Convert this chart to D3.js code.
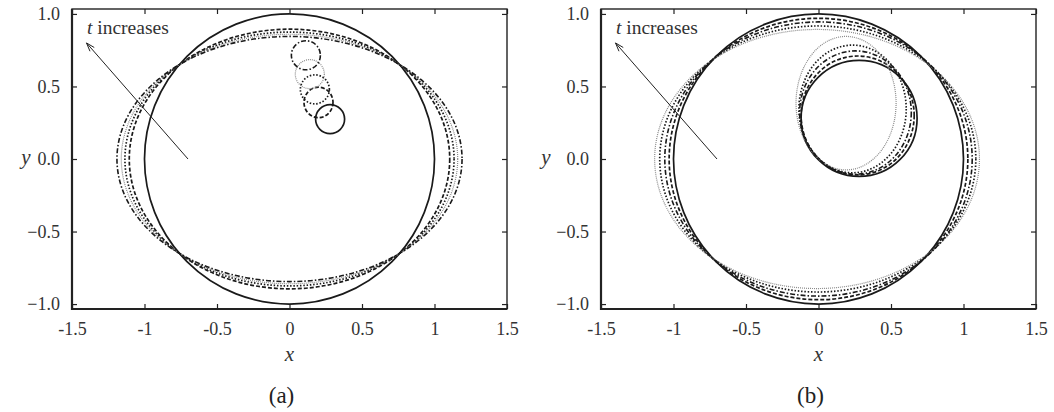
<!DOCTYPE html>
<html>
<head>
<meta charset="utf-8">
<script src="https://cdn.jsdelivr.net/npm/d3@7"></script>
<style>
  html, body { margin: 0; padding: 0; background: #fff; }
  svg { display: block; }
</style>
</head>
<body>
<svg id="chart" width="1054" height="412"></svg>
<script>
// Axis ticks shared by both panels
const xTicks = [-1.5, -1, -0.5, 0, 0.5, 1, 1.5];
const xTickLabels = ["-1.5", "-1", "-0.5", "0", "0.5", "1", "1.5"];
const yTicks = [-1, -0.5, 0, 0.5, 1];
const yTickLabels = ["\u22121.0", "\u22120.5", "0.0", "0.5", "1.0"];

// Line style for each time level (earliest first)
const levels = ["solid", "dashed", "dotted", "grayDotted", "dashDot"];

// Panel (a): outer boundary per time level (centre x, centre y, semi-axis x, semi-axis y)
const aOuterCx = [0, 0, 0, 0, 0];
const aOuterCy = [0, 0, 0, 0, 0];
const aOuterRx = [1.0, 1.105, 1.135, 1.16, 1.19];
const aOuterRy = [1.0, 0.895, 0.875, 0.86, 0.845];
// Panel (a): small inclusion per time level
const aInnerCx = [0.28, 0.20, 0.175, 0.14, 0.113];
const aInnerCy = [0.275, 0.39, 0.48, 0.585, 0.715];
const aInnerRx = [0.1, 0.1, 0.1, 0.1, 0.1];
const aInnerRy = [0.1, 0.105, 0.1, 0.1, 0.1];

// Panel (b): outer boundary per time level
const bOuterCx = [0, 0, -0.005, -0.01, 0];
const bOuterCy = [0, 0, 0, 0, 0];
const bOuterRx = [1.0, 1.03, 1.09, 1.12, 1.06];
const bOuterRy = [1.0, 0.97, 0.917, 0.893, 0.945];
// Panel (b): large inclusion per time level
const bInnerCx = [0.28, 0.27, 0.235, 0.19, 0.255];
const bInnerCy = [0.28, 0.30, 0.345, 0.385, 0.32];
const bInnerRx = [0.40, 0.39, 0.37, 0.345, 0.385];
const bInnerRy = [0.40, 0.41, 0.44, 0.46, 0.425];

// Arrow marking the direction of increasing time (tail, head)
const arrowFrom = [-0.7, 0.0];
const arrowTo = [-1.4, 0.8];

const panelLabels = ["(a)", "(b)"];

const SERIF = "Liberation Serif";

const styleOf = {
  solid:      { stroke: "#1a1a1a", width: 1.7, dash: null },
  dashed:     { stroke: "#1a1a1a", width: 1.7, dash: "4,2" },
  dotted:     { stroke: "#1a1a1a", width: 1.7, dash: "1.5,1.8" },
  grayDotted: { stroke: "#8a8a8a", width: 1.2, dash: "1,1" },
  dashDot:    { stroke: "#1a1a1a", width: 1.6, dash: "5,2,1.5,2" }
};

const svg = d3.select("#chart");

const panels = [
  { offset: 0, yLabelX: 26,
    shapes: [
      { cx: aOuterCx, cy: aOuterCy, rx: aOuterRx, ry: aOuterRy },
      { cx: aInnerCx, cy: aInnerCy, rx: aInnerRx, ry: aInnerRy }
    ] },
  { offset: 529, yLabelX: 17,
    shapes: [
      { cx: bOuterCx, cy: bOuterCy, rx: bOuterRx, ry: bOuterRy },
      { cx: bInnerCx, cy: bInnerCy, rx: bInnerRx, ry: bInnerRy }
    ] }
];

const L = 72, R = 507, T = 9, B = 309;

panels.forEach((p, pi) => {
  const g = svg.append("g").attr("transform", `translate(${p.offset},0)`);
  const x = d3.scaleLinear().domain([-1.5, 1.5]).range([L, R]);
  const y = d3.scaleLinear().domain([-1.034, 1.034]).range([B, T]);

  // curves
  p.shapes.forEach(s => {
    levels.forEach((lv, i) => {
      const st = styleOf[lv];
      g.append("ellipse")
        .attr("cx", x(s.cx[i]))
        .attr("cy", y(s.cy[i]))
        .attr("rx", x(s.rx[i]) - x(0))
        .attr("ry", y(0) - y(s.ry[i]))
        .attr("fill", "none")
        .attr("stroke", st.stroke)
        .attr("stroke-width", st.width)
        .attr("stroke-dasharray", st.dash);
    });
  });

  // axes with inward ticks on all four sides
  const tickLen = 5;
  g.append("g").attr("transform", `translate(0,${B})`)
    .call(d3.axisBottom(x).tickValues(xTicks).tickSizeInner(-tickLen).tickSizeOuter(0)
      .tickFormat((d, i) => xTickLabels[i]).tickPadding(13));
  g.append("g").attr("transform", `translate(0,${T})`)
    .call(d3.axisTop(x).tickValues(xTicks).tickSizeInner(-tickLen).tickSizeOuter(0).tickFormat(""));
  g.append("g").attr("transform", `translate(${L},0)`)
    .call(d3.axisLeft(y).tickValues(yTicks).tickSizeInner(-tickLen).tickSizeOuter(0)
      .tickFormat((d, i) => yTickLabels[i]).tickPadding(12));
  g.append("g").attr("transform", `translate(${R},0)`)
    .call(d3.axisRight(y).tickValues(yTicks).tickSizeInner(-tickLen).tickSizeOuter(0).tickFormat(""));

  g.selectAll(".domain").remove();
  g.selectAll(".tick line").attr("stroke", "#222").attr("stroke-width", 1.2);
  g.selectAll(".tick text").attr("fill", "#333").attr("font-family", SERIF).attr("font-size", 18);

  // frame
  g.append("rect").attr("x", L).attr("y", T).attr("width", R - L).attr("height", B - T)
    .attr("fill", "none").attr("stroke", "#222").attr("stroke-width", 1.4);
  g.append("path")
    .attr("d", `M${L},${T} V${B} H${R}`)
    .attr("fill", "none").attr("stroke", "#222").attr("stroke-width", 2.2);

  // arrow
  const hx = x(arrowTo[0]), hy = y(arrowTo[1]);
  const tx = x(arrowFrom[0]), ty = y(arrowFrom[1]);
  g.append("line").attr("x1", tx).attr("y1", ty).attr("x2", hx).attr("y2", hy)
    .attr("stroke", "#222").attr("stroke-width", 1);
  const ang = Math.atan2(hy - ty, hx - tx);
  const hl = 9, ha = 0.32;
  g.append("path")
    .attr("d", `M${hx - hl * Math.cos(ang - ha)},${hy - hl * Math.sin(ang - ha)} L${hx},${hy} L${hx - hl * Math.cos(ang + ha)},${hy - hl * Math.sin(ang + ha)}`)
    .attr("fill", "none").attr("stroke", "#222").attr("stroke-width", 1);

  const ti = g.append("text").attr("x", L + 15).attr("y", 34)
    .attr("font-family", SERIF).attr("font-size", 19.5).attr("fill", "#333");
  ti.append("tspan").attr("font-style", "italic").text("t");
  ti.append("tspan").text(" increases");

  // axis titles
  g.append("text").attr("x", x(0)).attr("y", 361).attr("text-anchor", "middle")
    .attr("font-family", SERIF).attr("font-style", "italic").attr("font-size", 21)
    .attr("fill", "#333").text("x");
  g.append("text").attr("x", p.yLabelX).attr("y", y(0) + 5).attr("text-anchor", "middle")
    .attr("font-family", SERIF).attr("font-style", "italic").attr("font-size", 21)
    .attr("fill", "#333").text("y");

  g.append("text").attr("x", x(0) - 8).attr("y", 403).attr("text-anchor", "middle")
    .attr("font-family", SERIF).attr("font-size", 23).attr("fill", "#222").text(panelLabels[pi]);
});
</script>
</body>
</html>
